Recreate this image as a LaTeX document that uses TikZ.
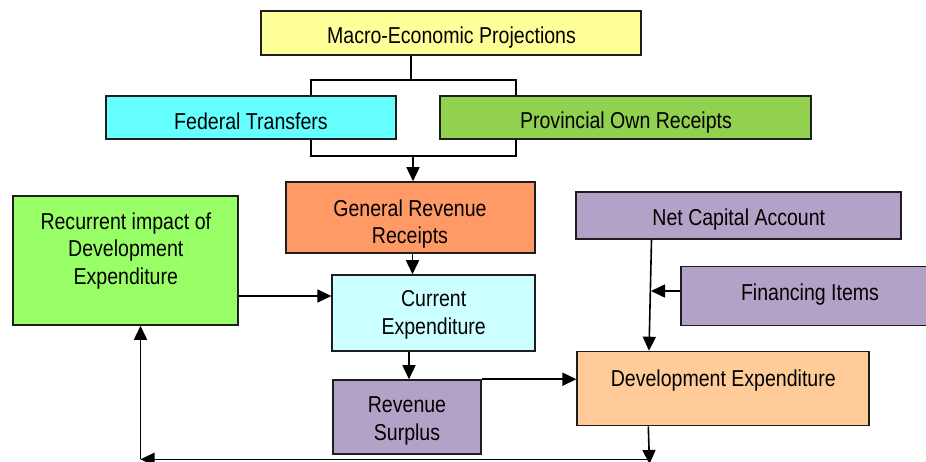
\documentclass[tikz,border=0pt]{standalone}
\usepackage{fontspec}
\setmainfont{Liberation Sans}[FakeStretch=0.85]
\usetikzlibrary{arrows.meta}
\newcommand\boxfont{\fontsize{23}{28}\selectfont}
\definecolor{cMacro}{HTML}{FFFF99}
\definecolor{cFed}{HTML}{66FFFF}
\definecolor{cProv}{HTML}{92D050}
\definecolor{cGrr}{HTML}{FF9966}
\definecolor{cRec}{HTML}{99FF66}
\definecolor{cPurple}{HTML}{B2A2C7}
\definecolor{cCur}{HTML}{CCFFFF}
\definecolor{cDev}{HTML}{FFCC99}
\definecolor{cEdge}{HTML}{1E1E1E}
\begin{document}
\begin{tikzpicture}[x=1pt,y=-1pt,
  box/.style={draw=cEdge, line width=1.6pt, inner sep=0pt, rectangle},
  lbl/.style={font=\boxfont, inner sep=0pt, anchor=base, text=black},
  link/.style={line width=1.6pt, draw=black},
  arr/.style={link, -{Triangle[length=14pt,width=13pt]}}]
\useasboundingbox (0,0) rectangle (926,461);
\clip (0,0) rectangle (926,461);
\fill[white] (0,0) rectangle (926,461);

% boxes
\node[box, fill=cMacro, minimum width=380pt, minimum height=44pt] (macro) at (451,33) {};
\node[box, fill=cFed, minimum width=290pt, minimum height=43pt] (fed) at (251,117.5) {};
\node[box, fill=cProv, minimum width=371pt, minimum height=43pt] (prov) at (625.5,117.5) {};
\node[box, fill=cGrr, minimum width=249pt, minimum height=71pt] (grr) at (410.5,217.5) {};
\node[box, fill=cRec, minimum width=225pt, minimum height=129pt] (rec) at (125.7,260.5) {};
\node[box, fill=cPurple, minimum width=325pt, minimum height=47pt] (nca) at (738.5,215.5) {};
\node[box, fill=cCur, minimum width=203pt, minimum height=76pt] (ce) at (433.7,313) {};
\node[box, fill=cPurple, minimum width=258pt, minimum height=59pt] (fin) at (810,295.8) {};
\node[box, fill=cDev, minimum width=292pt, minimum height=74pt] (de) at (723.2,388.5) {};
\node[box, fill=cPurple, minimum width=148pt, minimum height=74pt] (rs) at (407,417) {};

% texts
\node[lbl] (tmacro) at (451.5,43.3) {Macro-Economic Projections};
\node[lbl] (tfed) at (251,129.3) {Federal Transfers};
\node[lbl] (tprov) at (626,128.5) {Provincial Own Receipts};
\node[lbl] (tgrr1) at (410,216) {General Revenue};
\node[lbl] (tgrr2) at (410,243.5) {Receipts};
\node[lbl] (trec1) at (125.8,229.3) {Recurrent impact of};
\node[lbl] (trec2) at (125.8,256.8) {Development};
\node[lbl] (trec3) at (125.8,284.3) {Expenditure};
\node[lbl] (tnca) at (738.8,225) {Net Capital Account};
\node[lbl] (tce1) at (433.7,306.7) {Current};
\node[lbl] (tce2) at (433.7,334.5) {Expenditure};
\node[lbl] (tfin) at (810,300) {Financing Items};
\node[lbl] (tde) at (723.3,386) {Development Expenditure};
\node[lbl] (trs1) at (407,412.7) {Revenue};
\node[lbl] (trs2) at (407,440.5) {Surplus};

% junction coordinates
\coordinate (m1) at (411,80);
\coordinate (t1) at (311,80);
\coordinate (t2) at (516,80);
\coordinate (b1) at (311,156);
\coordinate (b2) at (516,156);
\coordinate (b3) at (413,156);
\coordinate (fj) at (651,291);
\coordinate (dn) at (649.5,464);
\coordinate (br) at (648.5,459.3);
\coordinate (bl) at (140.5,459.3);

% connectors
\draw[link] (macro.south -| m1) -- (m1);
\draw[link] (fed.north -| t1) -- (t1) -- (t2) -- (prov.north -| t2);
\draw[link] (fed.south -| b1) -- (b1) -- (b2) -- (prov.south -| b2);
\draw[arr] (b3) -- (grr.north -| b3);
\draw[arr] (grr.south -| 412.5,0) -- (ce.north -| 412.5,0);
\draw[arr] (rec.east |- 0,296) -- (ce.west |- 0,296);
\draw[arr] (ce.south -| 409,0) -- (rs.north -| 409,0);
\draw[arr] (rs.north east) -- (rs.north east -| de.west);
\draw[arr] (nca.south -| 651.5,0) -- (de.north -| 649,0);
\draw[arr] (fin.west |- fj) -- (fj);
\draw[arr] (de.south -| 648.3,0) -- (dn);
\draw[arr] (br) -- (bl);
\draw[arr] (bl) -- (rec.south -| bl);
\end{tikzpicture}
\end{document}
